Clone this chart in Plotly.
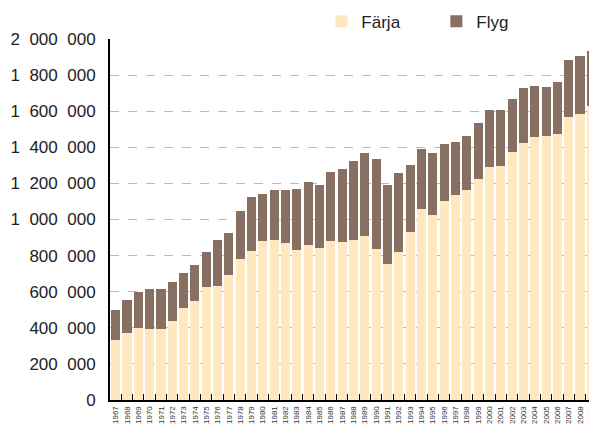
import plotly.graph_objects as go

years = [str(y) for y in range(1967, 2010)]
farja = [332, 371, 399, 393, 393, 438, 510, 548, 626, 632, 693, 781, 826, 881, 886, 870, 831,
         859, 842, 881, 875, 886, 909, 837, 753, 820, 931,
         1058, 1025, 1102, 1136, 1163, 1224, 1291, 1296, 1374, 1424, 1457, 1463, 1474, 1568, 1584, 1629]
total = [500, 554, 600, 615, 615, 654, 704, 748, 820, 886, 925, 1047, 1125, 1141, 1163, 1163, 1169,
         1208, 1191, 1263, 1280, 1324, 1368, 1335, 1191, 1258, 1302,
         1391, 1368, 1418, 1429, 1463, 1535, 1607, 1607, 1668, 1729, 1740, 1734, 1762, 1884, 1906, 1934]
farja = [v * 1000 for v in farja]
flyg = [t * 1000 - f for t, f in zip(total, farja)]

y_tickvals = [0, 200000, 400000, 600000, 800000, 1000000, 1200000, 1400000, 1600000, 1800000, 2000000]
y_ticktext = ["0", "200 000", "400 000", "600 000", "800 000", "1 000 000", "1 200 000",
              "1 400 000", "1 600 000", "1 800 000", "2 000 000"]
y_ticktext = [t.replace(" ", "  ") for t in y_ticktext]

fig = go.Figure()
fig.add_trace(go.Bar(x=years, y=farja, name="Färja", marker=dict(color="#FFE8C0", line=dict(width=0))))
fig.add_trace(go.Bar(x=years, y=flyg, name="Flyg", marker=dict(color="#876F62", line=dict(width=0))))

fig.update_layout(
    barmode="stack",
    bargap=0.2,
    width=597, height=429,
    margin=dict(l=102, r=8, t=31, b=37, autoexpand=False),
    paper_bgcolor="white", plot_bgcolor="white",
    font=dict(family="Liberation Sans, Arial, sans-serif", color="#222"),
    showlegend=True,
    legend=dict(orientation="h", x=0.434, y=1.098, xanchor="left", yanchor="top",
                font=dict(size=17, family="Liberation Sans, sans-serif", color="#222"),
                entrywidth=70, entrywidthmode="pixels", itemsizing="constant",
                traceorder="normal", bgcolor="rgba(0,0,0,0)"),
    xaxis=dict(type="category", tickmode="array", tickvals=years, ticktext=years,
               tickangle=-90, tickfont=dict(size=8, color="#333"),
               showline=True, linecolor="black", linewidth=2,
               ticks="inside", tickson="boundaries", ticklen=6, tickcolor="black", tickwidth=1,
               showgrid=False, ticklabelstandoff=1),
    yaxis=dict(range=[0, 2000000], tickvals=y_tickvals, ticktext=y_ticktext,
               tickfont=dict(size=17, color="#222"),
               showline=True, linecolor="black", linewidth=2,
               showgrid=True, gridcolor="#BBBBBB", griddash="dash", gridwidth=1,
               zeroline=False, ticks="", ticklabelstandoff=9),
)

fig.write_html("out.html")
